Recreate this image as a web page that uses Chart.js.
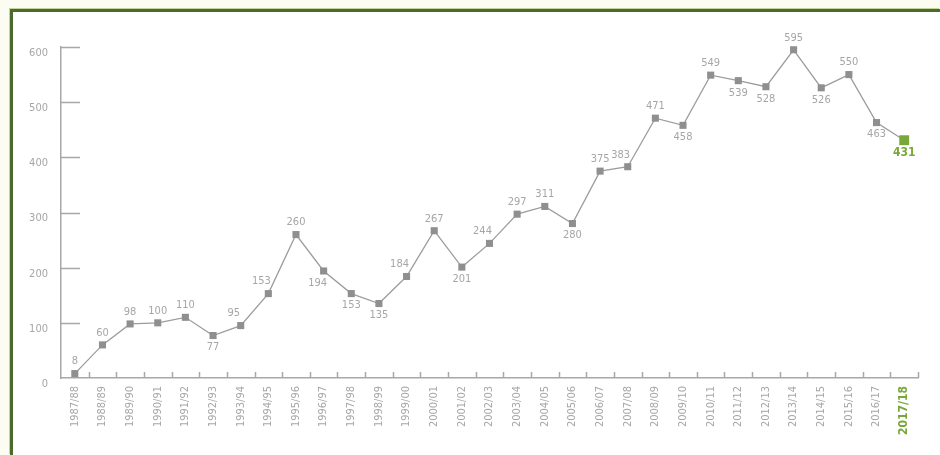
<!DOCTYPE html>
<html><head><meta charset="utf-8">
<script src="https://cdn.jsdelivr.net/npm/chart.js@4/dist/chart.umd.min.js"></script>
<style>
html,body{margin:0;padding:0;width:940px;height:455px;overflow:hidden;background:#fcfcf2;}
#frame{position:absolute;left:10px;top:9px;right:0;bottom:0;background:#fff;border-left:3px solid #4b6a2c;border-top:3px solid #4b6a2c;box-shadow:-1px -1px 0 #c3d49c;}
#c{position:absolute;left:0;top:0;}
</style></head><body>
<div id="frame"></div>
<canvas id="c" width="940" height="455"></canvas>
<script>
const seasons = ['1987/88','1988/89','1989/90','1990/91','1991/92','1992/93','1993/94','1994/95','1995/96','1996/97','1997/98','1998/99','1999/00','2000/01','2001/02','2002/03','2003/04','2004/05','2005/06','2006/07','2007/08','2008/09','2009/10','2010/11','2011/12','2012/13','2013/14','2014/15','2015/16','2016/17','2017/18'];
const values = [8,60,98,100,110,77,95,153,260,194,153,135,184,267,201,244,297,311,280,375,383,471,458,549,539,528,595,526,550,463,431];
const yTickValues = [0,100,200,300,400,500,600];
// label placement: a = above, b = below, al = above-left, bl = below-left
const labelPlacement = ['a','a','a','a','a','b','al','al','a','bl','b','b','al','a','b','al','a','a','b','a','al','a','b','a','b','b','a','b','a','b','b'];

const FONT = '"DejaVu Sans Condensed","DejaVu Sans",sans-serif';
const GRAY_TXT = '#a6a6a6';
const GREEN = '#79a83a';
const LAST = values.length - 1;

const innerTicks = {
  id:'innerTicks',
  afterDatasetsDraw(chart){
    const {ctx, scales:{x, y}} = chart;
    ctx.save();
    ctx.strokeStyle = '#a8a8a8';
    ctx.lineWidth = 1.5;
    ctx.beginPath();
    yTickValues.forEach(v => {
      if (v === 0) return;
      const py = Math.round(y.getPixelForValue(v)) + 0.5;
      ctx.moveTo(x.left, py); ctx.lineTo(x.left + 19, py);
    });
    const n = seasons.length;
    for (let i = 0; i < n; i++) {
      let px;
      if (i < n - 1) px = (x.getPixelForValue(i) + x.getPixelForValue(i + 1)) / 2;
      else px = x.right;
      px = Math.round(px) + 0.5;
      ctx.moveTo(px, y.bottom); ctx.lineTo(px, y.bottom - 6);
    }
    ctx.stroke();
    ctx.restore();
  }
};

const valueLabels = {
  id:'valueLabels',
  afterDatasetsDraw(chart){
    const {ctx} = chart;
    const meta = chart.getDatasetMeta(0);
    ctx.save();
    ctx.textAlign = 'center';
    ctx.textBaseline = 'middle';
    meta.data.forEach((pt, i) => {
      const p = labelPlacement[i];
      let dx = 0, dy = -12;
      if (p === 'b') dy = 12;
      if (p === 'al') { dx = -7; dy = -12; }
      if (p === 'bl') { dx = -6; dy = 12; }
      if (i === LAST) {
        ctx.font = 'bold 12px ' + FONT;
        ctx.fillStyle = GREEN;
        dy = 13;
      } else {
        ctx.font = '11px ' + FONT;
        ctx.fillStyle = GRAY_TXT;
      }
      ctx.fillText(String(values[i]), pt.x + dx, pt.y + dy);
    });
    ctx.restore();
  }
};

new Chart(document.getElementById('c'), {
  type:'line',
  data:{
    labels: seasons,
    datasets:[{
      data: values,
      borderColor:'#9c9c9c',
      borderWidth:1.3,
      tension:0,
      pointStyle:'rect',
      pointRadius: c => c.dataIndex === LAST ? 7 : 5,
      pointBackgroundColor: c => c.dataIndex === LAST ? GREEN : '#8f8f8f',
      pointBorderWidth:0,
      clip:false
    }]
  },
  options:{
    responsive:false,
    animation:false,
    devicePixelRatio:1,
    layout:{padding:{left:13, right:22, top:47, bottom:0}},
    plugins:{legend:{display:false}, tooltip:{enabled:false}},
    scales:{
      x:{
        type:'category',
        offset:true,
        grid:{display:false, drawTicks:false},
        border:{display:true, color:'#a8a8a8', width:1.5},
        ticks:{
          autoSkip:false, minRotation:90, maxRotation:90, padding:8,
          color: c => c.index === LAST ? GREEN : GRAY_TXT,
          font: c => c.index === LAST ? {family:FONT, size:12, weight:'bold'} : {family:FONT, size:11}
        },
        afterFit(s){ s.height = 77; }
      },
      y:{
        min:0, max:600,
        grid:{display:false, drawTicks:false},
        border:{display:true, color:'#a8a8a8', width:1.5},
        afterBuildTicks(s){ s.ticks = yTickValues.map(v => ({value:v})); },
        ticks:{color:GRAY_TXT, font:{family:FONT, size:11}, padding:13, labelOffset:6},
        afterFit(s){ s.width = 48; }
      }
    }
  },
  plugins:[innerTicks, valueLabels]
});
</script>
</body></html>
